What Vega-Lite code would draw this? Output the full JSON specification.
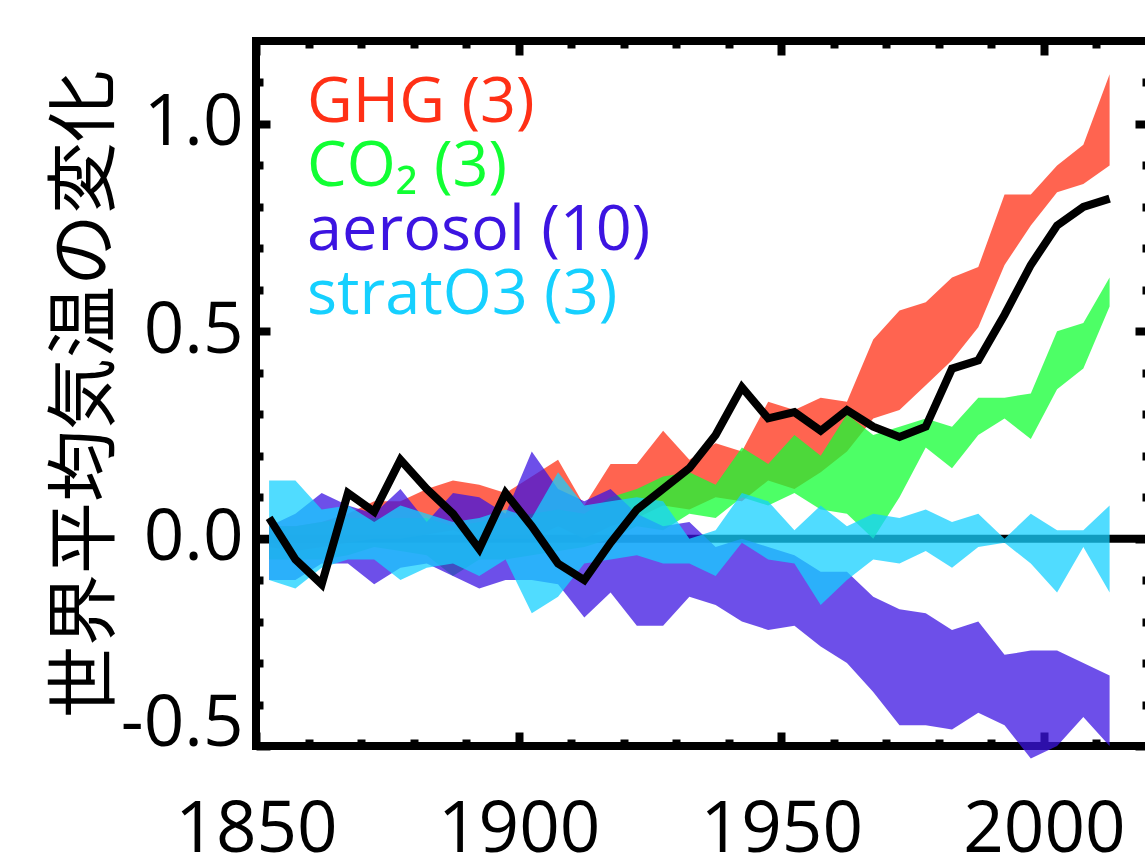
{
  "$schema": "https://vega.github.io/schema/vega-lite/v6.json",
  "width": 893,
  "height": 705,
  "autosize": {"type": "none"},
  "padding": {"left": 256, "top": 41, "right": 0, "bottom": 109},
  "background": "white",
  "config": {
    "view": {"stroke": "black", "strokeWidth": 8},
    "axis": {"grid": false, "domain": false, "tickColor": "black", "tickWidth": 8, "labelColor": "black", "labelFont": "Open Sans", "labelFontSize": 71, "title": null}
  },
  "datasets": {
    "obs": [
      {"year": 1852.5, "v": 0.05}, {"year": 1857.5, "v": -0.05}, {"year": 1862.5, "v": -0.11},
      {"year": 1867.5, "v": 0.11}, {"year": 1872.5, "v": 0.065}, {"year": 1877.5, "v": 0.19},
      {"year": 1882.5, "v": 0.12}, {"year": 1887.5, "v": 0.06}, {"year": 1892.5, "v": -0.025},
      {"year": 1897.5, "v": 0.11}, {"year": 1902.5, "v": 0.03}, {"year": 1907.5, "v": -0.06},
      {"year": 1912.5, "v": -0.10}, {"year": 1917.5, "v": -0.01}, {"year": 1922.5, "v": 0.07},
      {"year": 1927.5, "v": 0.12}, {"year": 1932.5, "v": 0.17}, {"year": 1937.5, "v": 0.25},
      {"year": 1942.5, "v": 0.365}, {"year": 1947.5, "v": 0.29}, {"year": 1952.5, "v": 0.305},
      {"year": 1957.5, "v": 0.26}, {"year": 1962.5, "v": 0.31}, {"year": 1967.5, "v": 0.27},
      {"year": 1972.5, "v": 0.245}, {"year": 1977.5, "v": 0.27}, {"year": 1982.5, "v": 0.41},
      {"year": 1987.5, "v": 0.43}, {"year": 1992.5, "v": 0.54}, {"year": 1997.5, "v": 0.66},
      {"year": 2002.5, "v": 0.755}, {"year": 2007.5, "v": 0.80}, {"year": 2012.5, "v": 0.82}
    ],
    "ghg": [
      {"year": 1852.5, "lo": -0.02, "hi": 0.03}, {"year": 1857.5, "lo": -0.03, "hi": 0.03},
      {"year": 1862.5, "lo": -0.02, "hi": 0.04}, {"year": 1867.5, "lo": -0.01, "hi": 0.06},
      {"year": 1872.5, "lo": 0.0, "hi": 0.09}, {"year": 1877.5, "lo": 0.0, "hi": 0.09},
      {"year": 1882.5, "lo": 0.01, "hi": 0.12}, {"year": 1887.5, "lo": 0.02, "hi": 0.14},
      {"year": 1892.5, "lo": 0.0, "hi": 0.13}, {"year": 1897.5, "lo": 0.0, "hi": 0.11},
      {"year": 1902.5, "lo": 0.0, "hi": 0.15}, {"year": 1907.5, "lo": 0.03, "hi": 0.19},
      {"year": 1912.5, "lo": 0.0, "hi": 0.08}, {"year": 1917.5, "lo": 0.03, "hi": 0.18},
      {"year": 1922.5, "lo": 0.05, "hi": 0.18}, {"year": 1927.5, "lo": 0.08, "hi": 0.26},
      {"year": 1932.5, "lo": 0.07, "hi": 0.19}, {"year": 1937.5, "lo": 0.10, "hi": 0.23},
      {"year": 1942.5, "lo": 0.09, "hi": 0.21}, {"year": 1947.5, "lo": 0.14, "hi": 0.33},
      {"year": 1952.5, "lo": 0.12, "hi": 0.31}, {"year": 1957.5, "lo": 0.16, "hi": 0.34},
      {"year": 1962.5, "lo": 0.21, "hi": 0.33}, {"year": 1967.5, "lo": 0.29, "hi": 0.48},
      {"year": 1972.5, "lo": 0.31, "hi": 0.55}, {"year": 1977.5, "lo": 0.37, "hi": 0.57},
      {"year": 1982.5, "lo": 0.43, "hi": 0.63}, {"year": 1987.5, "lo": 0.51, "hi": 0.655},
      {"year": 1992.5, "lo": 0.66, "hi": 0.83}, {"year": 1997.5, "lo": 0.755, "hi": 0.83},
      {"year": 2002.5, "lo": 0.835, "hi": 0.90}, {"year": 2007.5, "lo": 0.855, "hi": 0.95},
      {"year": 2012.5, "lo": 0.90, "hi": 1.12}
    ],
    "co2": [
      {"year": 1852.5, "lo": -0.05, "hi": 0.03}, {"year": 1857.5, "lo": -0.05, "hi": 0.03},
      {"year": 1862.5, "lo": -0.05, "hi": 0.04}, {"year": 1867.5, "lo": -0.04, "hi": 0.05},
      {"year": 1872.5, "lo": -0.02, "hi": 0.05}, {"year": 1877.5, "lo": -0.03, "hi": 0.05},
      {"year": 1882.5, "lo": -0.04, "hi": 0.05}, {"year": 1887.5, "lo": -0.09, "hi": 0.03},
      {"year": 1892.5, "lo": -0.05, "hi": 0.04}, {"year": 1897.5, "lo": -0.05, "hi": 0.05},
      {"year": 1902.5, "lo": -0.04, "hi": 0.06}, {"year": 1907.5, "lo": -0.03, "hi": 0.07},
      {"year": 1912.5, "lo": -0.02, "hi": 0.06}, {"year": 1917.5, "lo": 0.0, "hi": 0.10},
      {"year": 1922.5, "lo": 0.03, "hi": 0.12}, {"year": 1927.5, "lo": 0.02, "hi": 0.15},
      {"year": 1932.5, "lo": 0.06, "hi": 0.16}, {"year": 1937.5, "lo": 0.05, "hi": 0.13},
      {"year": 1942.5, "lo": 0.10, "hi": 0.22}, {"year": 1947.5, "lo": 0.08, "hi": 0.18},
      {"year": 1952.5, "lo": 0.11, "hi": 0.25}, {"year": 1957.5, "lo": 0.07, "hi": 0.20},
      {"year": 1962.5, "lo": 0.06, "hi": 0.30}, {"year": 1967.5, "lo": 0.0, "hi": 0.25},
      {"year": 1972.5, "lo": 0.10, "hi": 0.27}, {"year": 1977.5, "lo": 0.22, "hi": 0.29},
      {"year": 1982.5, "lo": 0.17, "hi": 0.27}, {"year": 1987.5, "lo": 0.25, "hi": 0.34},
      {"year": 1992.5, "lo": 0.29, "hi": 0.34}, {"year": 1997.5, "lo": 0.24, "hi": 0.35},
      {"year": 2002.5, "lo": 0.36, "hi": 0.50}, {"year": 2007.5, "lo": 0.41, "hi": 0.52},
      {"year": 2012.5, "lo": 0.56, "hi": 0.63}
    ],
    "aer": [
      {"year": 1852.5, "lo": -0.10, "hi": 0.03}, {"year": 1857.5, "lo": -0.10, "hi": 0.06},
      {"year": 1862.5, "lo": -0.06, "hi": 0.11}, {"year": 1867.5, "lo": -0.06, "hi": 0.08},
      {"year": 1872.5, "lo": -0.11, "hi": 0.06}, {"year": 1877.5, "lo": -0.07, "hi": 0.12},
      {"year": 1882.5, "lo": -0.06, "hi": 0.04}, {"year": 1887.5, "lo": -0.09, "hi": 0.11},
      {"year": 1892.5, "lo": -0.12, "hi": 0.10}, {"year": 1897.5, "lo": -0.10, "hi": 0.06},
      {"year": 1902.5, "lo": -0.10, "hi": 0.21}, {"year": 1907.5, "lo": -0.11, "hi": 0.12},
      {"year": 1912.5, "lo": -0.19, "hi": 0.09}, {"year": 1917.5, "lo": -0.13, "hi": 0.12},
      {"year": 1922.5, "lo": -0.21, "hi": 0.06}, {"year": 1927.5, "lo": -0.21, "hi": 0.03},
      {"year": 1932.5, "lo": -0.14, "hi": 0.04}, {"year": 1937.5, "lo": -0.16, "hi": -0.02},
      {"year": 1942.5, "lo": -0.20, "hi": 0.0}, {"year": 1947.5, "lo": -0.22, "hi": -0.02},
      {"year": 1952.5, "lo": -0.21, "hi": -0.04}, {"year": 1957.5, "lo": -0.26, "hi": -0.08},
      {"year": 1962.5, "lo": -0.30, "hi": -0.08}, {"year": 1967.5, "lo": -0.37, "hi": -0.14},
      {"year": 1972.5, "lo": -0.45, "hi": -0.17}, {"year": 1977.5, "lo": -0.45, "hi": -0.18},
      {"year": 1982.5, "lo": -0.46, "hi": -0.22}, {"year": 1987.5, "lo": -0.42, "hi": -0.20},
      {"year": 1992.5, "lo": -0.45, "hi": -0.28}, {"year": 1997.5, "lo": -0.53, "hi": -0.27},
      {"year": 2002.5, "lo": -0.50, "hi": -0.27}, {"year": 2007.5, "lo": -0.43, "hi": -0.30},
      {"year": 2012.5, "lo": -0.50, "hi": -0.33}
    ],
    "o3": [
      {"year": 1852.5, "lo": -0.10, "hi": 0.14}, {"year": 1857.5, "lo": -0.12, "hi": 0.14},
      {"year": 1862.5, "lo": -0.07, "hi": 0.07}, {"year": 1867.5, "lo": -0.05, "hi": 0.08},
      {"year": 1872.5, "lo": -0.05, "hi": 0.04}, {"year": 1877.5, "lo": -0.10, "hi": 0.08},
      {"year": 1882.5, "lo": -0.07, "hi": 0.06}, {"year": 1887.5, "lo": -0.06, "hi": 0.04},
      {"year": 1892.5, "lo": -0.09, "hi": 0.05}, {"year": 1897.5, "lo": -0.05, "hi": 0.07},
      {"year": 1902.5, "lo": -0.18, "hi": 0.05}, {"year": 1907.5, "lo": -0.14, "hi": 0.16},
      {"year": 1912.5, "lo": -0.06, "hi": 0.08}, {"year": 1917.5, "lo": -0.05, "hi": 0.09},
      {"year": 1922.5, "lo": -0.04, "hi": 0.10}, {"year": 1927.5, "lo": -0.06, "hi": 0.09},
      {"year": 1932.5, "lo": -0.06, "hi": 0.0}, {"year": 1937.5, "lo": -0.09, "hi": 0.02},
      {"year": 1942.5, "lo": -0.01, "hi": 0.11}, {"year": 1947.5, "lo": -0.05, "hi": 0.09},
      {"year": 1952.5, "lo": -0.06, "hi": 0.02}, {"year": 1957.5, "lo": -0.16, "hi": 0.08},
      {"year": 1962.5, "lo": -0.10, "hi": 0.03}, {"year": 1967.5, "lo": -0.05, "hi": 0.06},
      {"year": 1972.5, "lo": -0.06, "hi": 0.05}, {"year": 1977.5, "lo": -0.03, "hi": 0.07},
      {"year": 1982.5, "lo": -0.07, "hi": 0.04}, {"year": 1987.5, "lo": -0.02, "hi": 0.06},
      {"year": 1992.5, "lo": -0.01, "hi": 0.0}, {"year": 1997.5, "lo": -0.06, "hi": 0.06},
      {"year": 2002.5, "lo": -0.13, "hi": 0.02}, {"year": 2007.5, "lo": -0.02, "hi": 0.02},
      {"year": 2012.5, "lo": -0.13, "hi": 0.08}
    ],
    "zero": [{"v": 0}]
  },
  "resolve": {"axis": {"x": "independent", "y": "independent"}},
  "layer": [
    {
      "data": {"name": "zero"},
      "mark": {"type": "rule", "color": "black", "strokeWidth": 8},
      "encoding": {
        "y": {"field": "v", "type": "quantitative", "scale": {"domain": [-0.5, 1.2], "nice": false, "zero": false},
          "axis": {"orient": "left", "values": [-0.5, 0, 0.5, 1.0], "format": ".1f", "labelExpr": "replace(datum.label, '−', '-')",
            "tickSize": -14, "labelPadding": 27,
            "labelFlush": true, "labelFlushOffset": 14, "labelOverlap": false,
            "title": "世界平均気温の変化", "titleFont": "Noto Sans CJK JP", "titleFontSize": 72, "titleFontWeight": "normal", "titleColor": "black", "titlePadding": -2}}
      }
    },
    {
      "data": {"name": "ghg"},
      "mark": {"type": "area", "opacity": 0.75},
      "encoding": {
        "x": {"field": "year", "type": "quantitative", "scale": {"domain": [1850, 2020], "nice": false, "zero": false},
          "axis": {"orient": "bottom", "values": [1850, 1900, 1950, 2000], "format": "d", "tickSize": -14, "labelPadding": 63, "labelOverlap": false, "labelFlush": false}},
        "y": {"field": "lo", "type": "quantitative",
          "axis": {"orient": "left", "values": [-0.4, -0.3, -0.2, -0.1, 0.1, 0.2, 0.3, 0.4, 0.6, 0.7, 0.8, 0.9, 1.1], "tickSize": -7, "labels": false}},
        "y2": {"field": "hi"},
        "color": {"datum": "GHG (3)", "type": "nominal",
          "scale": {"domain": ["GHG (3)", "CO₂ (3)", "aerosol (10)", "stratO3 (3)"], "range": ["#ff3016", "#11ff33", "#3c14e1", "#16d0ff"]},
          "legend": {"orient": "top-left", "offset": 30, "title": null, "padding": 0, "symbolOpacity": 0, "symbolSize": 0, "symbolStrokeWidth": 0,
            "labelOffset": -42, "labelFont": "Open Sans", "labelFontSize": 63, "labelLimit": 0, "rowPadding": 0,
            "encode": {"labels": {"update": {"fill": {"scale": "color", "field": "value"}}}}}}
      }
    },
    {
      "data": {"name": "co2"},
      "mark": {"type": "area", "opacity": 0.75},
      "encoding": {
        "x": {"field": "year", "type": "quantitative",
          "axis": {"orient": "bottom", "values": [1860, 1870, 1880, 1890, 1910, 1920, 1930, 1940, 1960, 1970, 1980, 1990, 2010], "tickSize": -7, "labels": false}},
        "y": {"field": "lo", "type": "quantitative",
          "axis": {"orient": "right", "values": [-0.5, 0, 0.5, 1.0], "tickSize": -14, "labels": false}},
        "y2": {"field": "hi"},
        "color": {"datum": "CO₂ (3)", "type": "nominal"}
      }
    },
    {
      "data": {"name": "aer"},
      "mark": {"type": "area", "opacity": 0.75},
      "encoding": {
        "x": {"field": "year", "type": "quantitative",
          "axis": {"orient": "top", "values": [1850, 1900, 1950, 2000], "tickSize": -14, "labels": false}},
        "y": {"field": "lo", "type": "quantitative",
          "axis": {"orient": "right", "values": [-0.4, -0.3, -0.2, -0.1, 0.1, 0.2, 0.3, 0.4, 0.6, 0.7, 0.8, 0.9, 1.1], "tickSize": -7, "labels": false}},
        "y2": {"field": "hi"},
        "color": {"datum": "aerosol (10)", "type": "nominal"}
      }
    },
    {
      "data": {"name": "o3"},
      "mark": {"type": "area", "opacity": 0.75},
      "encoding": {
        "x": {"field": "year", "type": "quantitative",
          "axis": {"orient": "top", "values": [1860, 1870, 1880, 1890, 1910, 1920, 1930, 1940, 1960, 1970, 1980, 1990, 2010], "tickSize": -7, "labels": false}},
        "y": {"field": "lo", "type": "quantitative", "axis": null},
        "y2": {"field": "hi"},
        "color": {"datum": "stratO3 (3)", "type": "nominal"}
      }
    },
    {
      "data": {"name": "obs"},
      "mark": {"type": "line", "color": "black", "strokeWidth": 8},
      "encoding": {
        "x": {"field": "year", "type": "quantitative", "axis": null},
        "y": {"field": "v", "type": "quantitative", "axis": null}
      }
    }
  ]
}
